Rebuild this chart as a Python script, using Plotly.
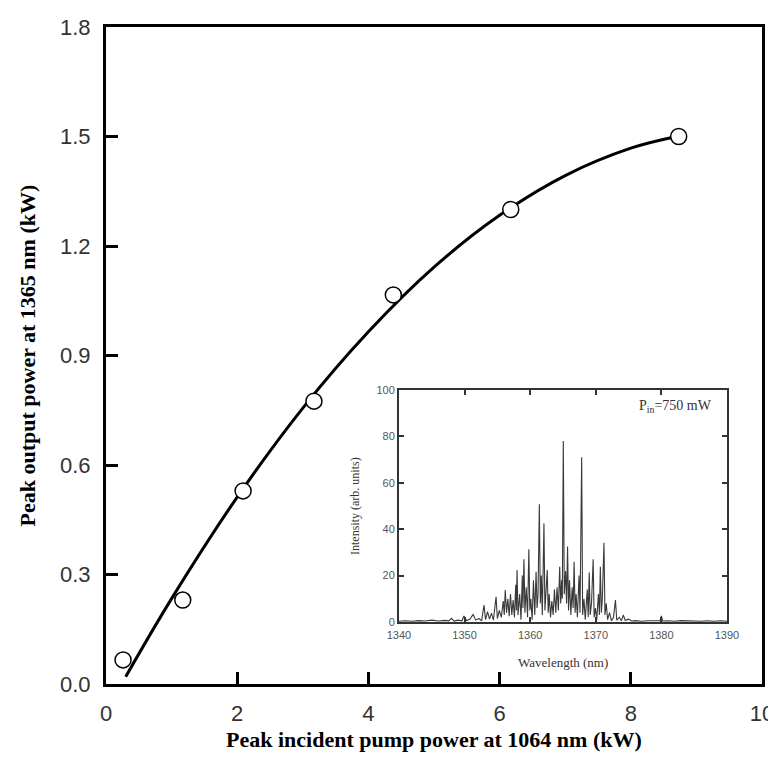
import plotly.graph_objects as go

# Main data: measured points
pump_kw = [0.26, 1.17, 2.09, 3.17, 4.38, 6.17, 8.73]
output_kw = [0.066, 0.23, 0.529, 0.775, 1.066, 1.30, 1.50]

# Fitted curve
fit_x = [0.3, 1.0, 2.0, 3.0, 4.0, 5.0, 6.0, 7.0, 8.0, 8.7]
fit_y = [0.02, 0.234, 0.512, 0.756, 0.965, 1.142, 1.284, 1.393, 1.468, 1.50]

# Inset spectrum
wl_nm = [1340.0, 1341.0, 1342.0, 1343.0, 1344.0, 1345.0, 1346.0, 1347.0, 1347.6, 1348.0,
         1348.4, 1349.0, 1349.6, 1349.9, 1350.3, 1350.8, 1351.3, 1351.7, 1352.2, 1352.6,
         1352.96, 1353.2, 1353.5, 1353.8, 1354.1, 1354.4, 1354.8, 1355.0, 1355.3, 1355.6,
         1355.9, 1356.05, 1356.2, 1356.4, 1356.6, 1356.8, 1357.0, 1357.2, 1357.4, 1357.6,
         1357.8, 1357.9, 1358.0, 1358.15, 1358.4, 1358.6, 1358.8, 1358.9, 1359.05, 1359.2,
         1359.4, 1359.6, 1359.8, 1359.95, 1360.1, 1360.3, 1360.5, 1360.7, 1360.9, 1361.05,
         1361.2, 1361.4, 1361.55, 1361.7, 1361.85, 1362.1, 1362.25, 1362.4, 1362.6, 1362.75,
         1362.9, 1363.1, 1363.3, 1363.5, 1363.7, 1363.9, 1364.1, 1364.3, 1364.5, 1364.65,
         1364.8, 1364.9, 1365.05, 1365.2, 1365.4, 1365.55, 1365.7, 1365.85, 1366.0, 1366.2,
         1366.4, 1366.55, 1366.7, 1366.85, 1367.0, 1367.2, 1367.45, 1367.6, 1367.85, 1368.0,
         1368.2, 1368.4, 1368.7, 1368.85, 1369.0, 1369.15, 1369.35, 1369.6, 1369.75, 1369.95,
         1370.15, 1370.4, 1370.55, 1370.7, 1370.85, 1371.0, 1371.25, 1371.4, 1371.6, 1371.8,
         1372.1, 1372.4, 1372.7, 1373.0, 1373.2, 1373.6, 1373.9, 1374.2, 1374.5, 1375.0,
         1375.5, 1376.0, 1377.0, 1378.0, 1379.0, 1379.8, 1380.0, 1380.2, 1381.0, 1382.0,
         1383.0, 1384.0, 1385.0, 1386.0, 1387.0, 1388.0, 1389.0, 1390.0]
intensity = [0.3, 0.5, 0.3, 0.6, 0.4, 0.8, 0.4, 0.7, 0.5, 1.6,
             0.4, 0.8, 0.5, 2.6, 0.6, 1.2, 3.3, 0.8, 1.5, 0.5,
             7.3, 1.0, 4.5, 1.2, 3.8, 0.8, 10.9, 1.5, 5.0, 2.0,
             9.0, 3.0, 13.8, 4.0, 10.0, 2.5, 12.0, 3.0, 9.5, 2.0,
             16.0, 5.0, 22.4, 3.0, 12.0, 1.0, 20.0, 6.0, 27.0, 4.0,
             15.0, 2.0, 31.3, 5.0, 10.0, 1.0, 18.0, 3.0, 21.7, 6.0,
             12.0, 50.7, 8.0, 20.0, 3.0, 42.5, 5.0, 14.0, 22.4, 4.0,
             12.0, 2.0, 9.0, 3.0, 14.0, 4.0, 15.0, 5.0, 23.8, 8.0,
             18.0, 10.0, 78.0, 12.0, 22.0, 8.0, 32.5, 5.0, 18.0, 3.0,
             15.0, 6.0, 26.0, 4.0, 12.0, 2.0, 20.0, 4.0, 71.0, 3.0,
             10.0, 1.0, 14.0, 2.0, 21.3, 3.0, 8.0, 27.0, 2.0, 6.0,
             1.0, 12.0, 3.0, 23.8, 4.0, 10.0, 34.2, 3.0, 8.0, 1.0,
             4.0, 0.5, 2.0, 9.5, 0.8, 2.0, 0.5, 3.0, 0.6, 1.2,
             0.4, 0.6, 0.3, 0.5, 0.4, 0.5, 2.6, 0.4, 0.5, 0.3,
             0.6, 0.4, 0.5, 0.3, 0.5, 0.3, 0.5, 0.3]

main_xticks = [0, 2, 4, 6, 8, 10]
main_yticks = [0.0, 0.3, 0.6, 0.9, 1.2, 1.5, 1.8]
inset_xticks = [1340, 1350, 1360, 1370, 1380, 1390]
inset_yticks = [0, 20, 40, 60, 80, 100]

serif = "Liberation Serif, Times New Roman"
sans = "Liberation Sans, Arial"

fig = go.Figure()

fig.add_trace(go.Scatter(x=fit_x, y=fit_y, mode="lines", line=dict(color="black", width=3, shape="spline"),
                         showlegend=False, hoverinfo="skip"))
fig.add_trace(go.Scatter(x=pump_kw, y=output_kw, mode="markers",
                         marker=dict(symbol="circle", size=16, color="white", line=dict(color="black", width=1.5)),
                         showlegend=False))

fig.add_trace(go.Scatter(x=wl_nm, y=intensity, mode="lines", xaxis="x2", yaxis="y2",
                         line=dict(color="#3a3a3a", width=1.1), showlegend=False))

axis_common = dict(showgrid=False, zeroline=False, showline=True, automargin=False)

fig.update_layout(
    width=768, height=764,
    margin=dict(l=98, r=14, t=19, b=88),
    paper_bgcolor="white", plot_bgcolor="white",
    xaxis=dict(range=[0, 10], tickvals=main_xticks, ticktext=[str(v) for v in main_xticks],
               linecolor="black", linewidth=3, mirror=True, ticks="inside", ticklen=12, tickwidth=3,
               tickcolor="black", tickfont=dict(family=sans, size=22, color="#333"),
               ticklabelstandoff=8, **axis_common),
    yaxis=dict(range=[0, 1.8], tickvals=main_yticks, ticktext=[f"{v:.1f}" for v in main_yticks],
               linecolor="black", linewidth=3, mirror=True, ticks="inside", ticklen=12, tickwidth=3,
               tickcolor="black", tickfont=dict(family=sans, size=22, color="#333"),
               ticklabelstandoff=8, **axis_common),
    xaxis2=dict(domain=[0.4466, 0.9466], anchor="y2", range=[1340, 1390], tickvals=inset_xticks,
                linecolor="#333", linewidth=2, mirror="ticks", ticks="inside", ticklen=5, tickwidth=2,
                tickcolor="#333", tickfont=dict(family=sans, size=11, color="#555"),
                ticklabelstandoff=2, **axis_common),
    yaxis2=dict(domain=[0.0944, 0.4475], anchor="x2", range=[0, 100], tickvals=inset_yticks,
                linecolor="#333", linewidth=2, mirror="ticks", ticks="inside", ticklen=5, tickwidth=2,
                tickcolor="#333", tickfont=dict(family=sans, size=11, color="#555"), **axis_common),
    annotations=[
        dict(x=0.5, y=-0.0852, xref="paper", yref="paper", xanchor="center", yanchor="middle",
             text="<b>Peak incident pump power at 1064 nm (kW)</b>", showarrow=False,
             font=dict(family=serif, size=22, color="black")),
        dict(x=-0.1204, y=0.5, xref="paper", yref="paper", xanchor="center", yanchor="middle",
             text="<b>Peak output power at 1365 nm (kW)</b>", showarrow=False, textangle=-90,
             font=dict(family=serif, size=22, color="black")),
        dict(x=0.6966, y=0.032, xref="paper", yref="paper", xanchor="center", yanchor="middle",
             text="Wavelength (nm)", showarrow=False,
             font=dict(family=serif, size=13, color="#333")),
        dict(x=0.3796, y=0.271, xref="paper", yref="paper", xanchor="center", yanchor="middle",
             text="Intensity (arb. units)", showarrow=False, textangle=-90,
             font=dict(family=serif, size=12, color="#333")),
        dict(x=1388, y=93, xref="x2", yref="y2", xanchor="right", yanchor="middle",
             text="P<sub>in</sub>=750 mW", showarrow=False,
             font=dict(family=serif, size=14, color="#333")),
    ],
)

fig.write_html("out.html")
